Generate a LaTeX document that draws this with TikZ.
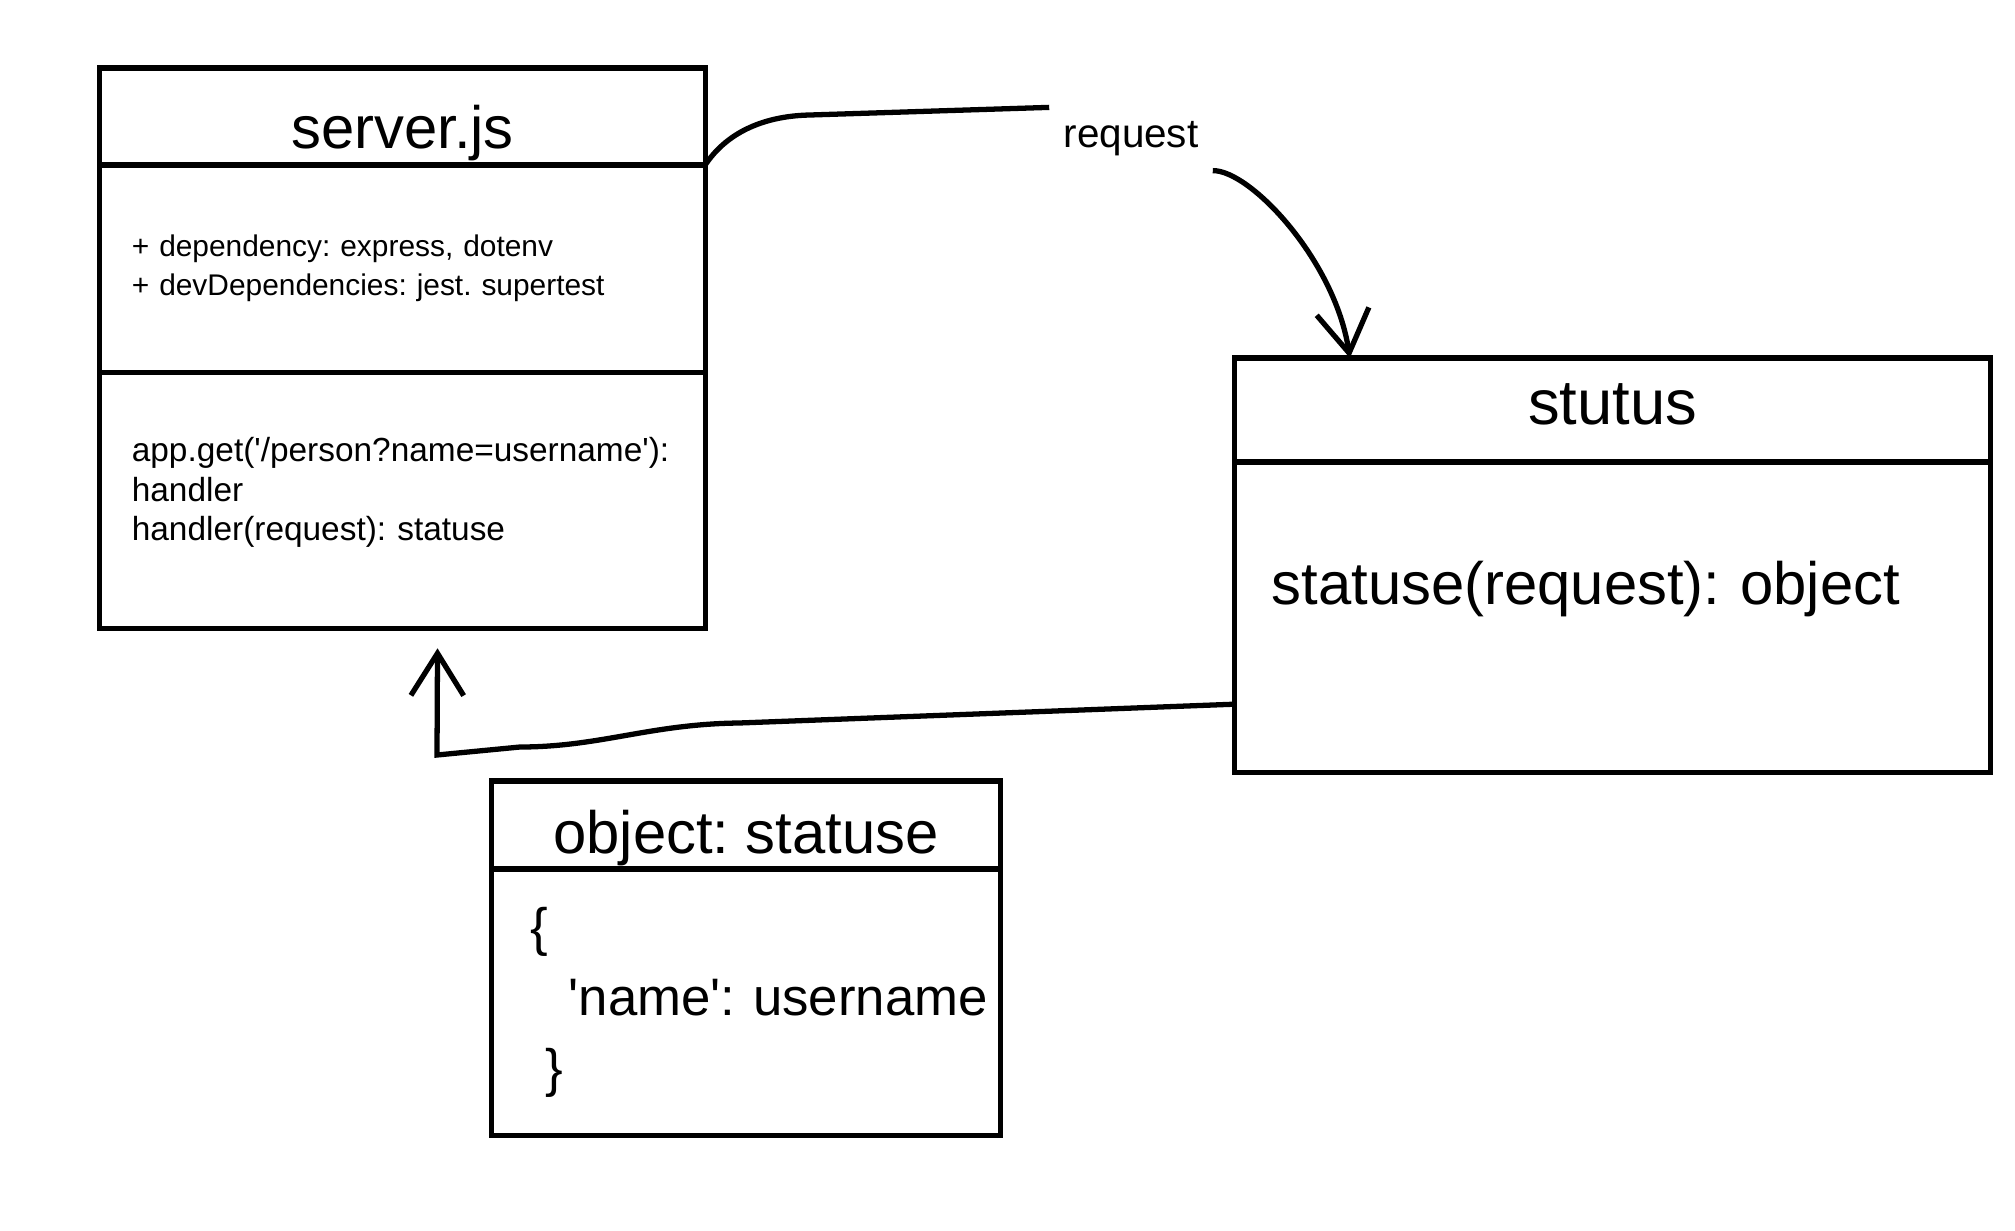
\documentclass[tikz,border=0pt]{standalone}
\usepackage{fontspec}
\setmainfont{Liberation Sans}[Ligatures=TeXOff]
\usetikzlibrary{arrows.meta,positioning}
\frenchspacing

\begin{document}
\begin{tikzpicture}[x=0.01cm, y=-0.01cm, line width=1.5pt, >={Straight Barb[length=12pt,width=15pt]},
  box head/.style={draw, rectangle, inner sep=0pt, outer sep=0pt, text depth=0pt, font=\fontsize{17}{20}\selectfont},
  box part/.style={draw, rectangle, inner xsep=0.32cm, inner ysep=0pt, outer sep=0pt, align=left},
  wire/.style={draw=black, line width=1.5pt}]
\useasboundingbox (0,0) rectangle (2015,1230);

% server.js
\node[box head, minimum width=6.05cm, minimum height=0.97cm, text height=0.63cm] (srvhead) at (402.5,116.5) {server.js};
\node[box part, below=0pt of srvhead, text width=5.41cm, minimum height=2.07cm, font=\fontsize{8.5}{11}\selectfont] (srvattr) {+ dependency: express, dotenv\\+ devDependencies: jest. supertest};
\node[box part, below=0pt of srvattr, text width=5.41cm, minimum height=2.56cm, text depth=1.02cm, font=\fontsize{9.5}{11.3}\selectfont] (srvops) {app.get('/person?name=username'):\\handler\\handler(request): statuse};

% stutus
\node[box head, minimum width=7.55cm, minimum height=1.04cm, text height=0.44cm, text depth=0.15cm, font=\fontsize{18}{21}\selectfont] (stuhead) at (1612.5,410) {stutus};
\node[box part, below=0pt of stuhead, inner xsep=0.37cm, text width=6.81cm, minimum height=3.10cm, text depth=0.68cm, font=\fontsize{17}{20}\selectfont] (stubody) {statuse(request): object};

% object: statuse
\node[box head, minimum width=5.08cm, minimum height=0.88cm, text height=0.56cm] (objhead) at (746,825) {object: statuse};
\node[box part, below=0pt of objhead, inner xsep=0.39cm, text width=4.30cm, minimum height=2.66cm, font=\fontsize{15}{20}\selectfont] (objbody) {\{\\\hspace*{0.38cm}\mbox{'name': username}\\\hspace*{0.15cm}\}};

% connectors
\node[font=\fontsize{11.5}{14}\selectfont] (req) at (1131,139) {request};
\draw[wire] (srvhead.south east) .. controls (725,135) and (760,116) .. (810,115) -- (req.north west);
\draw[wire,->] (req.south east) .. controls (1250,170) and (1335,260) .. ([xshift=1.15cm]stuhead.north west);
\draw[wire,->] ([yshift=-0.87cm]stubody.west) -- (739,723) .. controls (650,724) and (600,747) .. (520,747) -- (437,755) -- ([xshift=0.35cm,yshift=-0.2cm]srvops.south);
%\draw[wire,->] (a) -- (b);
\end{tikzpicture}
\end{document}
